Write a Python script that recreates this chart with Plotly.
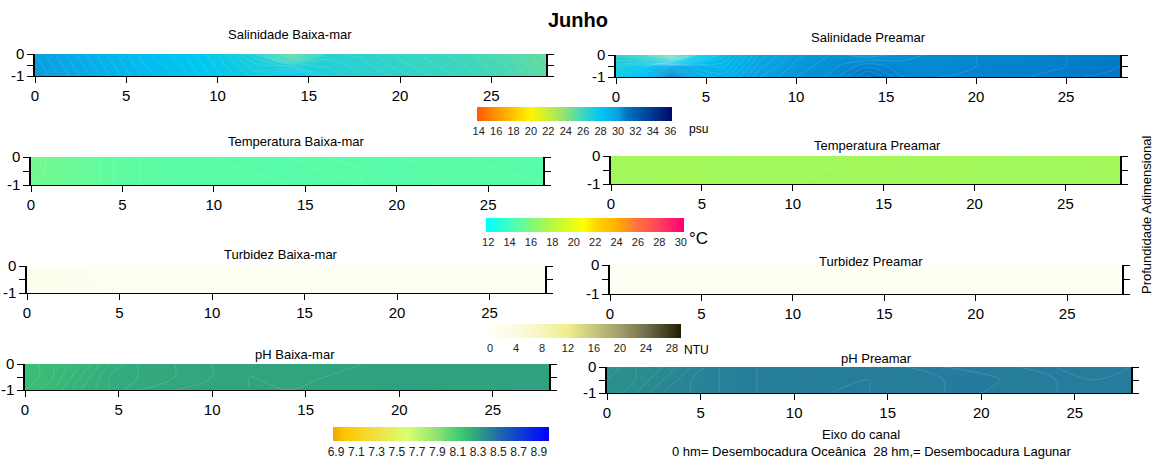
import plotly.graph_objects as go

# ---------------- data ----------------
dist = [0, 1.5, 3, 4.5, 6, 8, 10, 12, 14, 16, 18, 20, 22, 24, 26, 28]   # hm
depth = [0, -0.5, -1]                                                   # adimensional

sal_bm = [
    [30.0, 29.6, 29.2, 28.8, 28.4, 28.1, 27.6, 26.9, 25.0, 26.6, 26.5, 26.2, 26.0, 25.8, 25.5, 25.0],
    [30.1, 29.7, 29.3, 28.9, 28.5, 28.2, 27.7, 27.2, 26.9, 26.8, 26.6, 26.3, 26.1, 25.9, 25.6, 25.1],
    [30.2, 29.8, 29.4, 29.0, 28.6, 28.3, 27.8, 27.4, 28.2, 27.0, 26.7, 26.5, 26.2, 26.0, 25.7, 25.2],
]
sal_pm = [
    [26.8, 26.2, 24.6, 27.5, 28.6, 29.6, 30.1, 30.3, 30.2, 30.4, 30.5, 30.6, 30.6, 30.7, 30.8, 30.9],
    [27.2, 27.8, 29.6, 29.0, 28.9, 29.8, 30.2, 30.4, 30.7, 30.5, 30.5, 30.6, 30.7, 30.7, 30.8, 30.9],
    [27.6, 28.6, 30.8, 29.4, 29.2, 30.0, 30.3, 30.5, 31.1, 30.6, 30.6, 30.7, 30.7, 30.8, 30.9, 31.0],
]
temp_bm = [
    [15.6, 15.4, 15.2, 15.0, 14.9, 14.8, 14.8, 14.7, 14.8, 14.8, 14.7, 14.8, 14.8, 14.8, 14.7, 14.7],
    [15.6, 15.4, 15.2, 15.0, 14.9, 14.8, 14.8, 14.8, 14.7, 14.8, 14.8, 14.7, 14.8, 14.8, 14.8, 14.7],
    [15.5, 15.4, 15.2, 15.0, 14.9, 14.8, 14.8, 14.8, 14.8, 14.7, 14.8, 14.7, 14.8, 14.8, 14.8, 14.8],
]
temp_pm = [
    [17.2, 17.3, 17.2, 17.2, 17.1, 17.2, 17.2, 17.1, 17.3, 17.2, 17.2, 17.2, 17.1, 17.2, 17.2, 17.2],
    [17.2, 17.2, 17.3, 17.2, 17.2, 17.1, 17.2, 17.2, 17.2, 17.2, 17.3, 17.2, 17.2, 17.1, 17.2, 17.2],
    [17.1, 17.2, 17.2, 17.3, 17.2, 17.2, 17.1, 17.2, 17.2, 17.1, 17.2, 17.2, 17.2, 17.2, 17.1, 17.2],
]
turb_bm = [
    [1.4, 1.2, 1.0, 0.9, 0.8, 0.7, 0.6, 0.6, 0.5, 0.5, 0.5, 0.4, 0.4, 0.4, 0.4, 0.4],
    [1.5, 1.3, 1.1, 0.9, 0.8, 0.7, 0.6, 0.6, 0.5, 0.5, 0.5, 0.4, 0.4, 0.4, 0.4, 0.4],
    [1.6, 1.4, 1.1, 1.0, 0.8, 0.7, 0.7, 0.6, 0.5, 0.5, 0.5, 0.5, 0.4, 0.4, 0.4, 0.4],
]
turb_pm = [
    [0.6, 0.6, 0.5, 0.5, 0.5, 0.5, 0.5, 0.4, 0.4, 0.4, 0.4, 0.4, 0.4, 0.4, 0.4, 0.4],
    [0.6, 0.6, 0.6, 0.5, 0.5, 0.5, 0.5, 0.4, 0.4, 0.4, 0.4, 0.4, 0.4, 0.4, 0.4, 0.4],
    [0.7, 0.6, 0.6, 0.5, 0.5, 0.5, 0.5, 0.5, 0.4, 0.4, 0.4, 0.4, 0.4, 0.4, 0.4, 0.4],
]
ph_bm = [
    [8.17, 8.19, 8.21, 8.24, 8.26, 8.27, 8.28, 8.28, 8.29, 8.28, 8.29, 8.29, 8.29, 8.30, 8.29, 8.29],
    [8.17, 8.19, 8.22, 8.25, 8.26, 8.27, 8.28, 8.29, 8.28, 8.29, 8.29, 8.29, 8.30, 8.29, 8.29, 8.29],
    [8.18, 8.20, 8.23, 8.25, 8.27, 8.28, 8.28, 8.29, 8.29, 8.29, 8.29, 8.30, 8.29, 8.29, 8.30, 8.30],
]
ph_pm = [
    [8.35, 8.37, 8.38, 8.40, 8.42, 8.43, 8.43, 8.44, 8.43, 8.44, 8.44, 8.43, 8.44, 8.44, 8.43, 8.44],
    [8.36, 8.37, 8.39, 8.41, 8.42, 8.43, 8.44, 8.43, 8.44, 8.43, 8.44, 8.45, 8.43, 8.44, 8.44, 8.44],
    [8.36, 8.38, 8.40, 8.41, 8.42, 8.43, 8.43, 8.44, 8.44, 8.43, 8.44, 8.44, 8.43, 8.44, 8.44, 8.44],
]

sal_ticks = [14, 16, 18, 20, 22, 24, 26, 28, 30, 32, 34, 36]
temp_ticks = [12, 14, 16, 18, 20, 22, 24, 26, 28, 30]
turb_ticks = [0, 4, 8, 12, 16, 20, 24, 28]
ph_ticks = [6.9, 7.1, 7.3, 7.5, 7.7, 7.9, 8.1, 8.3, 8.5, 8.7, 8.9]
x_ticks = [0, 5, 10, 15, 20, 25]

titles = ["Salinidade Baixa-mar", "Salinidade Preamar",
          "Temperatura Baixa-mar", "Temperatura Preamar",
          "Turbidez Baixa-mar", "Turbidez Preamar",
          "pH Baixa-mar", "pH Preamar"]

# ---------------- styling ----------------
W, H = 1157, 462
FONT = "Liberation Sans Narrow, Liberation Sans, Arial, sans-serif"
FONT2 = "Liberation Sans, Arial, sans-serif"


def scale(stops, vmin, vmax):
    return [[(v - vmin) / (vmax - vmin), c] for v, c in stops]


sal_rng = (13.8, 36.2)
sal_cs = scale([(13.8, "#ff5a00"), (16, "#ff9400"), (18, "#ffc400"), (20, "#fff500"),
                (22, "#c8ee3c"), (24, "#8ee07a"), (26, "#3cd6c0"), (28, "#00c6f2"),
                (30, "#0aa0e0"), (31, "#0074c4"), (34, "#00388e"), (36.2, "#000868")], *sal_rng)
temp_rng = (11.8, 30.3)
temp_cs = scale([(11.8, "#00ffff"), (14, "#40ffc0"), (16, "#80f880"), (18, "#b8f840"),
                 (21, "#ffff00"), (22, "#ffd800"), (24, "#ffb000"), (26, "#ff7040"),
                 (28, "#ff4060"), (30.3, "#ff0070")], *temp_rng)
turb_rng = (0, 29.4)
turb_cs = scale([(0, "#fffff6"), (4, "#fcfbe0"), (8, "#f7f5bc"), (12, "#eeee8c"),
                 (16, "#c8c67e"), (20, "#a09e6a"), (24, "#72704c"), (28, "#363410"),
                 (29.4, "#201e00")], *turb_rng)
ph_rng = (6.87, 9.0)
ph_cs = scale([(6.87, "#f0a800"), (7.0, "#ffc800"), (7.3, "#f0e040"), (7.6, "#d8ff70"),
               (7.9, "#90e070"), (8.1, "#40d070"), (8.3, "#30a080"), (8.5, "#206ca8"),
               (8.7, "#1040d0"), (9.0, "#0000ff")], *ph_rng)

fields = [sal_bm, sal_pm, temp_bm, temp_pm, turb_bm, turb_pm, ph_bm, ph_pm]
caxes = ["coloraxis", "coloraxis", "coloraxis2", "coloraxis2",
         "coloraxis3", "coloraxis3", "coloraxis4", "coloraxis4"]
csteps = [0.15, 0.15, 0.1, 0.1, 0.1, 0.1, 0.01, 0.01]

# plot boxes in pixels: (left edge, right edge, top, bottom)
boxes = [
    (35, 546, 54, 76), (616, 1120, 55, 77),
    (31, 543, 157, 185), (611, 1120, 156, 184),
    (27, 545, 266, 293), (610, 1122, 265, 294),
    (25, 549, 364, 390), (607, 1131, 367, 393),
]
title_pos = [(290, 34), (868, 37), (296, 142), (877, 145),
             (281, 254), (871, 261), (295, 354), (876, 358)]

fig = go.Figure()
layout = dict(template="none", width=W, height=H,
              margin=dict(l=0, r=0, t=0, b=0, pad=0, autoexpand=False),
              paper_bgcolor="white", plot_bgcolor="white", showlegend=False,
              font=dict(family=FONT2, color="black"))
annotations = []

for i, (z, ca, st, box, tp, ttl) in enumerate(zip(fields, caxes, csteps, boxes, title_pos, titles)):
    n = i + 1
    x0, xr, yt, yb = box
    fig.add_trace(go.Contour(
        x=dist, y=depth, z=z, coloraxis=ca,
        contours=dict(coloring="heatmap", start=0, end=40, size=st, showlines=True),
        line=dict(color="rgba(255,255,255,0.25)", width=0.5, smoothing=1),
        xaxis=f"x{n}", yaxis=f"y{n}", hoverinfo="skip"))
    layout[f"xaxis{n}"] = dict(
        domain=[x0 / W, xr / W], anchor=f"y{n}", range=[0, 28], automargin=False,
        tickvals=x_ticks, showline=True, linecolor="black", linewidth=1,
        ticks="outside", ticklen=6, tickcolor="black", showgrid=False, zeroline=False,
        tickfont=dict(family=FONT, size=15))
    layout[f"yaxis{n}"] = dict(
        domain=[1 - yb / H, 1 - yt / H], anchor=f"x{n}", range=[-1, 0], automargin=False,
        tickvals=[0, -0.5, -1], ticktext=["0", "", "-1"],
        showline=True, mirror="ticks", linecolor="black", linewidth=1.5,
        ticks="outside", ticklen=6, tickcolor="black", showgrid=False, zeroline=False,
        tickfont=dict(family=FONT, size=15))
    annotations.append(dict(text=ttl, x=tp[0] / W, y=1 - tp[1] / H, xref="paper", yref="paper",
                            showarrow=False, xanchor="center", yanchor="middle",
                            font=dict(family=FONT2, size=13)))


def cbar(x_left, x_right, y_top, ticks, tsize):
    return dict(orientation="h", lenmode="pixels", len=x_right - x_left,
                thicknessmode="pixels", thickness=14,
                x=(x_left + x_right) / 2 / W, xanchor="center",
                y=1 - y_top / H, yanchor="top", xpad=0, ypad=0,
                outlinewidth=0, tickvals=ticks, ticks="",
                tickfont=dict(family=FONT2, size=tsize, color="#222"))


layout["coloraxis"] = dict(colorscale=sal_cs, cmin=sal_rng[0], cmax=sal_rng[1],
                           colorbar=cbar(477, 672, 107, sal_ticks, 11))
layout["coloraxis2"] = dict(colorscale=temp_cs, cmin=temp_rng[0], cmax=temp_rng[1],
                            colorbar=cbar(486, 684, 218, temp_ticks, 11))
layout["coloraxis3"] = dict(colorscale=turb_cs, cmin=turb_rng[0], cmax=turb_rng[1],
                            colorbar=cbar(490, 681, 324, turb_ticks, 11))
layout["coloraxis4"] = dict(colorscale=ph_cs, cmin=ph_rng[0], cmax=ph_rng[1],
                            colorbar=cbar(333, 549, 427, ph_ticks, 12))


def txt(t, x, y, size, **kw):
    d = dict(text=t, x=x / W, y=1 - y / H, xref="paper", yref="paper", showarrow=False,
             xanchor="center", yanchor="middle", font=dict(family=FONT2, size=size))
    d.update(kw)
    return d


annotations += [
    txt("<b>Junho</b>", 578, 20, 20),
    txt("psu", 698, 129, 12),
    txt("°C", 698, 238, 17),
    txt("NTU", 696, 350, 12),
    txt("Profundidade Adimensional", 1146, 215, 13, textangle=-90),
    txt("Eixo do canal", 861, 434, 13),
    txt("0 hm= Desembocadura Oceânica  28 hm,= Desembocadura Lagunar", 872, 451, 13),
]
layout["annotations"] = annotations
fig.update_layout(**layout)
fig.write_html("out.html", config={"displayModeBar": False},
               post_script="document.body.style.margin='0';document.body.style.padding='0';"
                           "document.body.style.overflow='hidden';")
